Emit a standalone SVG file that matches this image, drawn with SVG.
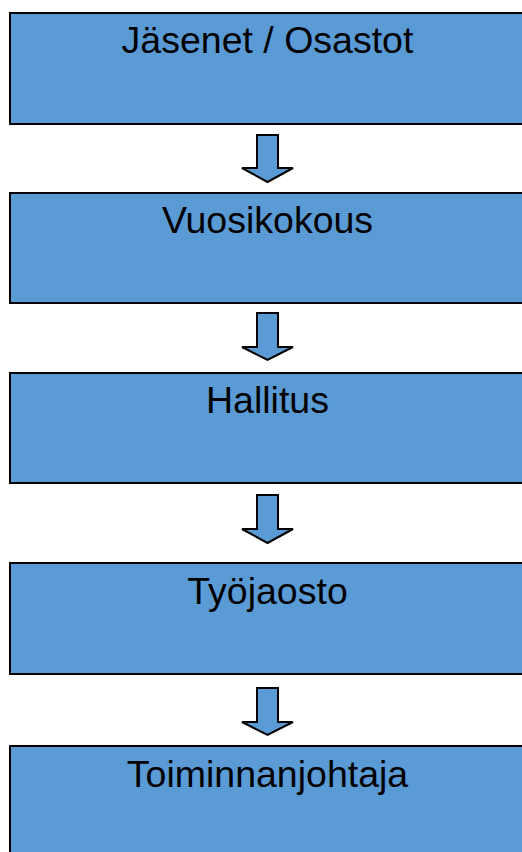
<svg xmlns="http://www.w3.org/2000/svg" width="522" height="852" viewBox="0 0 522 852">
<style>
.box{fill:#5b9bd5;stroke:#000;stroke-width:2}
.lbl{font-family:"Liberation Sans",Arial,sans-serif;font-size:37.5px;fill:#000;text-anchor:middle}
.arr{fill:#5b9bd5;stroke:#000;stroke-width:2;stroke-linejoin:miter}
</style>
<rect width="522" height="852" fill="#fff"/>
<g id="n1"><rect class="box" x="10" y="13" width="520" height="111"/><text class="lbl" x="267.5" y="53">Jäsenet / Osastot</text></g>
<g id="n2"><rect class="box" x="10" y="193" width="520" height="110"/><text class="lbl" x="267.5" y="233">Vuosikokous</text></g>
<g id="n3"><rect class="box" x="10" y="373" width="520" height="110"/><text class="lbl" x="267.5" y="413">Hallitus</text></g>
<g id="n4"><rect class="box" x="10" y="563" width="520" height="111"/><text class="lbl" x="267.5" y="604">Työjaosto</text></g>
<g id="n5"><rect class="box" x="10" y="746" width="520" height="120"/><text class="lbl" x="267.5" y="787">Toiminnanjohtaja</text></g>
<g id="connectors">
<path class="arr" d="M257,135 H278 V168 H293 L267.5,182 L242,168 H257 Z"/>
<path class="arr" d="M257,313 H278 V347 H293 L267.5,360 L242,347 H257 Z"/>
<path class="arr" d="M257,495 H278 V529 H293 L267.5,543 L242,529 H257 Z"/>
<path class="arr" d="M257,688 H278 V722 H293 L267.5,735 L242,722 H257 Z"/>
</g>
</svg>
